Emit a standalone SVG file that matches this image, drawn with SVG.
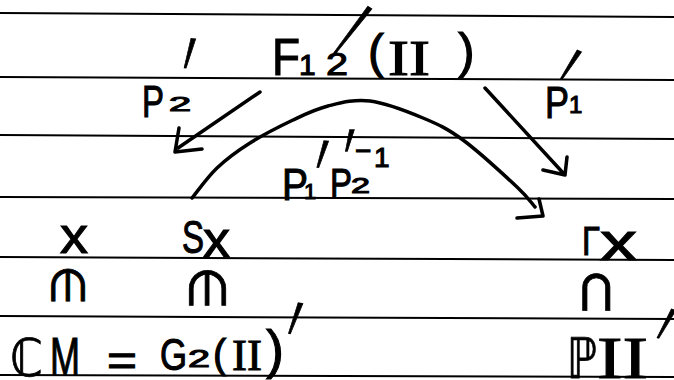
<svg xmlns="http://www.w3.org/2000/svg" width="674" height="380" viewBox="0 0 674 380">
<style>
.rule{stroke:#000;stroke-width:2;fill:none}
.hw{font-family:"Liberation Sans","DejaVu Sans",sans-serif;fill:#000;stroke:#000;stroke-width:1.1}
.ser{font-family:"Liberation Serif","DejaVu Serif",serif;fill:#000;stroke:#000;stroke-width:1}
.dbl{font-family:"DejaVu Sans",sans-serif;fill:#000;stroke:#000;stroke-width:0.8}
.rel{font-family:"DejaVu Sans",sans-serif;fill:#000;stroke:#000;stroke-width:0.8;text-anchor:middle;dominant-baseline:central}
.pr{font-family:"DejaVu Sans",sans-serif;font-size:48px;text-anchor:middle;fill:#000;stroke:#000;stroke-width:0.6}
.ink{stroke:#000;stroke-width:3.5;fill:none;stroke-linecap:round;stroke-linejoin:round}
</style>
<rect width="674" height="380" fill="#fff"/>
<g id="paper-lines">
<line class="rule" x1="0" y1="13" x2="674" y2="17"/>
<line class="rule" x1="0" y1="77" x2="674" y2="80"/>
<line class="rule" x1="0" y1="135" x2="674" y2="139"/>
<line class="rule" x1="0" y1="197" x2="674" y2="199"/>
<line class="rule" x1="0" y1="257" x2="674" y2="260"/>
<line class="rule" x1="0" y1="316" x2="674" y2="319"/>
<line class="rule" x1="0" y1="375" x2="674" y2="377"/>
</g>
<g id="node-F12">
<text class="hw" x="272" y="75" font-size="52" textLength="28" lengthAdjust="spacingAndGlyphs">F</text>
<text class="hw" x="299" y="75" font-size="30">1</text>
<text class="hw" x="326" y="75" font-size="32" textLength="22" lengthAdjust="spacingAndGlyphs">2</text>
<text class="pr" y="31" transform="translate(354,29) rotate(32) scale(1,6.3)">′</text>
<text class="hw" x="368" y="68" font-size="48">(</text>
<text class="ser" x="388" y="75" font-size="50" textLength="42" lengthAdjust="spacingAndGlyphs">II</text>
<text class="hw" x="458" y="68" font-size="50">)</text>
</g>
<g id="node-P2">
<text class="hw" x="142" y="117" font-size="44" textLength="22" lengthAdjust="spacingAndGlyphs">P</text>
<text class="hw" x="169" y="111" font-size="20" textLength="22" lengthAdjust="spacingAndGlyphs">2</text>
<text class="pr" y="31" transform="translate(190,52) rotate(5) scale(1,3.3)">′</text>
</g>
<g id="node-P1">
<text class="hw" x="545" y="118" font-size="44" textLength="24" lengthAdjust="spacingAndGlyphs">P</text>
<text class="hw" x="569" y="113" font-size="24">1</text>
<text class="pr" y="31" transform="translate(571.5,64) rotate(23) scale(1,3.6)">′</text>
</g>
<g id="node-arc-label">
<text class="hw" x="282" y="200" font-size="44" textLength="26" lengthAdjust="spacingAndGlyphs">P</text>
<text class="hw" x="304" y="199" font-size="22">1</text>
<text class="pr" y="31" transform="translate(323,153) rotate(6) scale(1,3)">′</text>
<text class="hw" x="330" y="198" font-size="42" textLength="22" lengthAdjust="spacingAndGlyphs">P</text>
<text class="hw" x="351" y="193" font-size="22" textLength="19" lengthAdjust="spacingAndGlyphs">2</text>
<text class="pr" y="31" transform="translate(350,140) rotate(0) scale(1,2.4)">′</text>
<text class="hw" font-size="28"><tspan x="355" y="160">−</tspan><tspan x="374" y="167">1</tspan></text>
</g>
<g id="node-x">
<text class="hw" x="60" y="253" font-size="52" textLength="28" lengthAdjust="spacingAndGlyphs">x</text>
</g>
<g id="node-Sx">
<text class="hw" x="182" y="253" font-size="46" textLength="22" lengthAdjust="spacingAndGlyphs">S</text>
<text class="hw" x="203" y="257" font-size="50" textLength="27" lengthAdjust="spacingAndGlyphs">x</text>
</g>
<g id="node-Gx">
<text class="hw" x="582" y="255" font-size="40" textLength="18" lengthAdjust="spacingAndGlyphs">Γ</text>
<text class="hw" x="600" y="260" font-size="54" textLength="37" lengthAdjust="spacingAndGlyphs">x</text>
</g>
<g id="rel-x">
<text class="rel" font-size="46" transform="translate(68,285) rotate(90)">∈</text>
</g>
<g id="rel-Sx">
<text class="rel" font-size="50" transform="translate(207,288) rotate(90)">∈</text>
</g>
<g id="rel-Gx">
<text class="rel" font-size="58" transform="translate(598,292) rotate(90)">⊂</text>
</g>
<g id="node-CM">
<text class="dbl" x="10" y="376" font-size="52" textLength="33" lengthAdjust="spacingAndGlyphs">ℂ</text>
<text class="hw" x="50" y="375" font-size="54" textLength="30" lengthAdjust="spacingAndGlyphs">M</text>
<text class="hw" x="107" y="376" font-size="44" textLength="30" lengthAdjust="spacingAndGlyphs">=</text>
<text class="hw" x="160" y="370" font-size="44" textLength="27" lengthAdjust="spacingAndGlyphs">G</text>
<text class="hw" x="188" y="367" font-size="24" textLength="22" lengthAdjust="spacingAndGlyphs">2</text>
<text class="hw" x="213" y="368" font-size="40">(</text>
<text class="ser" x="232" y="370" font-size="44" textLength="30" lengthAdjust="spacingAndGlyphs">II</text>
<text class="hw" x="266" y="368" font-size="54">)</text>
<text class="pr" y="31" transform="translate(296,317) rotate(10) scale(1,3.5)">′</text>
</g>
<g id="node-PII">
<text class="dbl" x="567" y="378" font-size="56" textLength="30" lengthAdjust="spacingAndGlyphs">ℙ</text>
<text class="ser" x="597" y="378" font-size="60" textLength="51" lengthAdjust="spacingAndGlyphs">II</text>
<text class="pr" y="31" transform="translate(667,323) rotate(19) scale(1,3.5)">′</text>
</g>
<g id="connectors">
<path class="ink" d="M260,92 L178,148 M179,128 L175,152 L202,149"/>
<path class="ink" d="M485,88 L565,175 M567,157 L565,175 L543,170"/>
<path class="ink" d="M192,198 C196.2,193 207.3,177.2 217,168 C226.7,158.8 237.3,151 250,143 C262.7,135 280,126.2 293,120 C306,113.8 315.2,109.2 328,106 C340.8,102.8 354.2,99 370,101 C385.8,103 407.5,111.5 423,118 C438.5,124.5 447.3,128.5 463,140 C478.7,151.5 505,175.8 517,187 C529,198.2 532,203.7 535,207 M539,199 L543,216 L517,218"/>
</g>
</svg>
